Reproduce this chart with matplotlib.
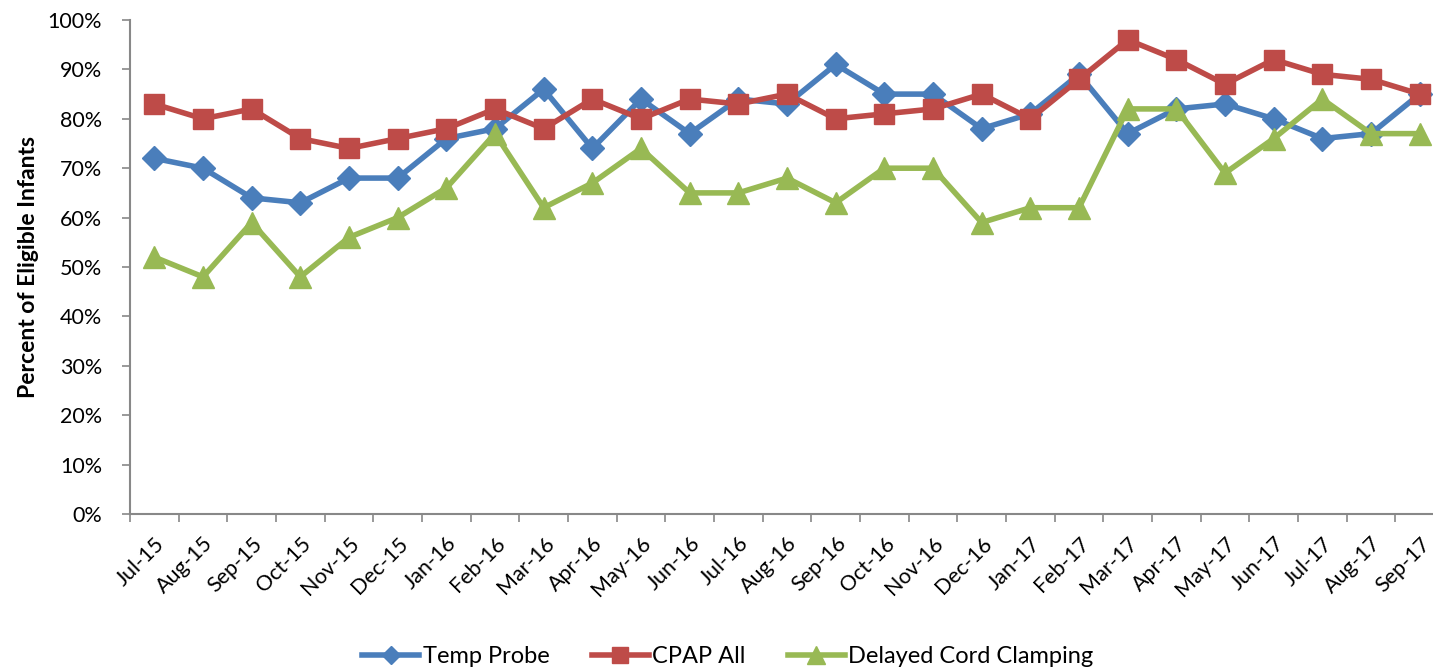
import numpy as np
import matplotlib
matplotlib.use('Agg')
import matplotlib.pyplot as plt
from matplotlib.ticker import PercentFormatter

# months shown on the x axis
months = ['Jul-15', 'Aug-15', 'Sep-15', 'Oct-15', 'Nov-15', 'Dec-15', 'Jan-16',
          'Feb-16', 'Mar-16', 'Apr-16', 'May-16', 'Jun-16', 'Jul-16', 'Aug-16',
          'Sep-16', 'Oct-16', 'Nov-16', 'Dec-16', 'Jan-17', 'Feb-17', 'Mar-17',
          'Apr-17', 'May-17', 'Jun-17', 'Jul-17', 'Aug-17', 'Sep-17']

# percent of eligible infants
temp_probe = [72, 70, 64, 63, 68, 68, 76, 78, 86, 74, 84, 77, 84, 83, 91, 85, 85,
              78, 81, 89, 77, 82, 83, 80, 76, 77, 85]
cpap_all = [83, 80, 82, 76, 74, 76, 78, 82, 78, 84, 80, 84, 83, 85, 80, 81, 82,
            85, 80, 88, 96, 92, 87, 92, 89, 88, 85]
delayed_cord = [52, 48, 59, 48, 56, 60, 66, 77, 62, 67, 74, 65, 65, 68, 63, 70, 70,
                59, 62, 62, 82, 82, 69, 76, 84, 77, 77]

plt.rcParams['font.family'] = ['Lato', 'DejaVu Sans']

fig = plt.figure(figsize=(14.33, 6.68), dpi=100)
ax = fig.add_axes([130 / 1433, 154 / 668, 1314 / 1433, 494 / 668])

x = np.arange(len(months))
ax.plot(x, temp_probe, color='#4A7EBB', lw=4, marker='D', ms=12, label='Temp Probe')
ax.plot(x, cpap_all, color='#BE4B48', lw=4, marker='s', ms=14, label='CPAP All')
ax.plot(x, delayed_cord, color='#98B954', lw=4, marker='^', ms=16, label='Delayed Cord Clamping')

ax.set_xlim(-0.5, len(months) - 0.5)
ax.set_ylim(0, 100)
ax.set_yticks(np.arange(0, 101, 10))
ax.yaxis.set_major_formatter(PercentFormatter(decimals=0))

ax.set_xticks(x)
ax.set_xticklabels(months, rotation=45, ha='right', rotation_mode='anchor')
ax.set_xticks(np.arange(-0.5, len(months), 1), minor=True)
ax.tick_params(axis='x', which='major', length=0, pad=14, labelsize=15.5)
ax.tick_params(axis='x', which='minor', length=6, color='#888888', width=1.2)
ax.tick_params(axis='y', length=6, color='#888888', width=1.2, labelsize=15.5, pad=14)

for side in ['top', 'right']:
    ax.spines[side].set_visible(False)
for side in ['left', 'bottom']:
    ax.spines[side].set_color('#888888')
    ax.spines[side].set_linewidth(1.5)

ax.set_ylabel('Percent of Eligible Infants', fontsize=16.5, fontweight='bold', labelpad=6)

fig.legend(loc='lower center', ncol=3, frameon=False, fontsize=17,
           bbox_to_anchor=(0.508, -0.03), handlelength=2.4, columnspacing=1.8,
           handletextpad=0.15, markerscale=0.8)

fig.savefig('out.png', dpi=100)
